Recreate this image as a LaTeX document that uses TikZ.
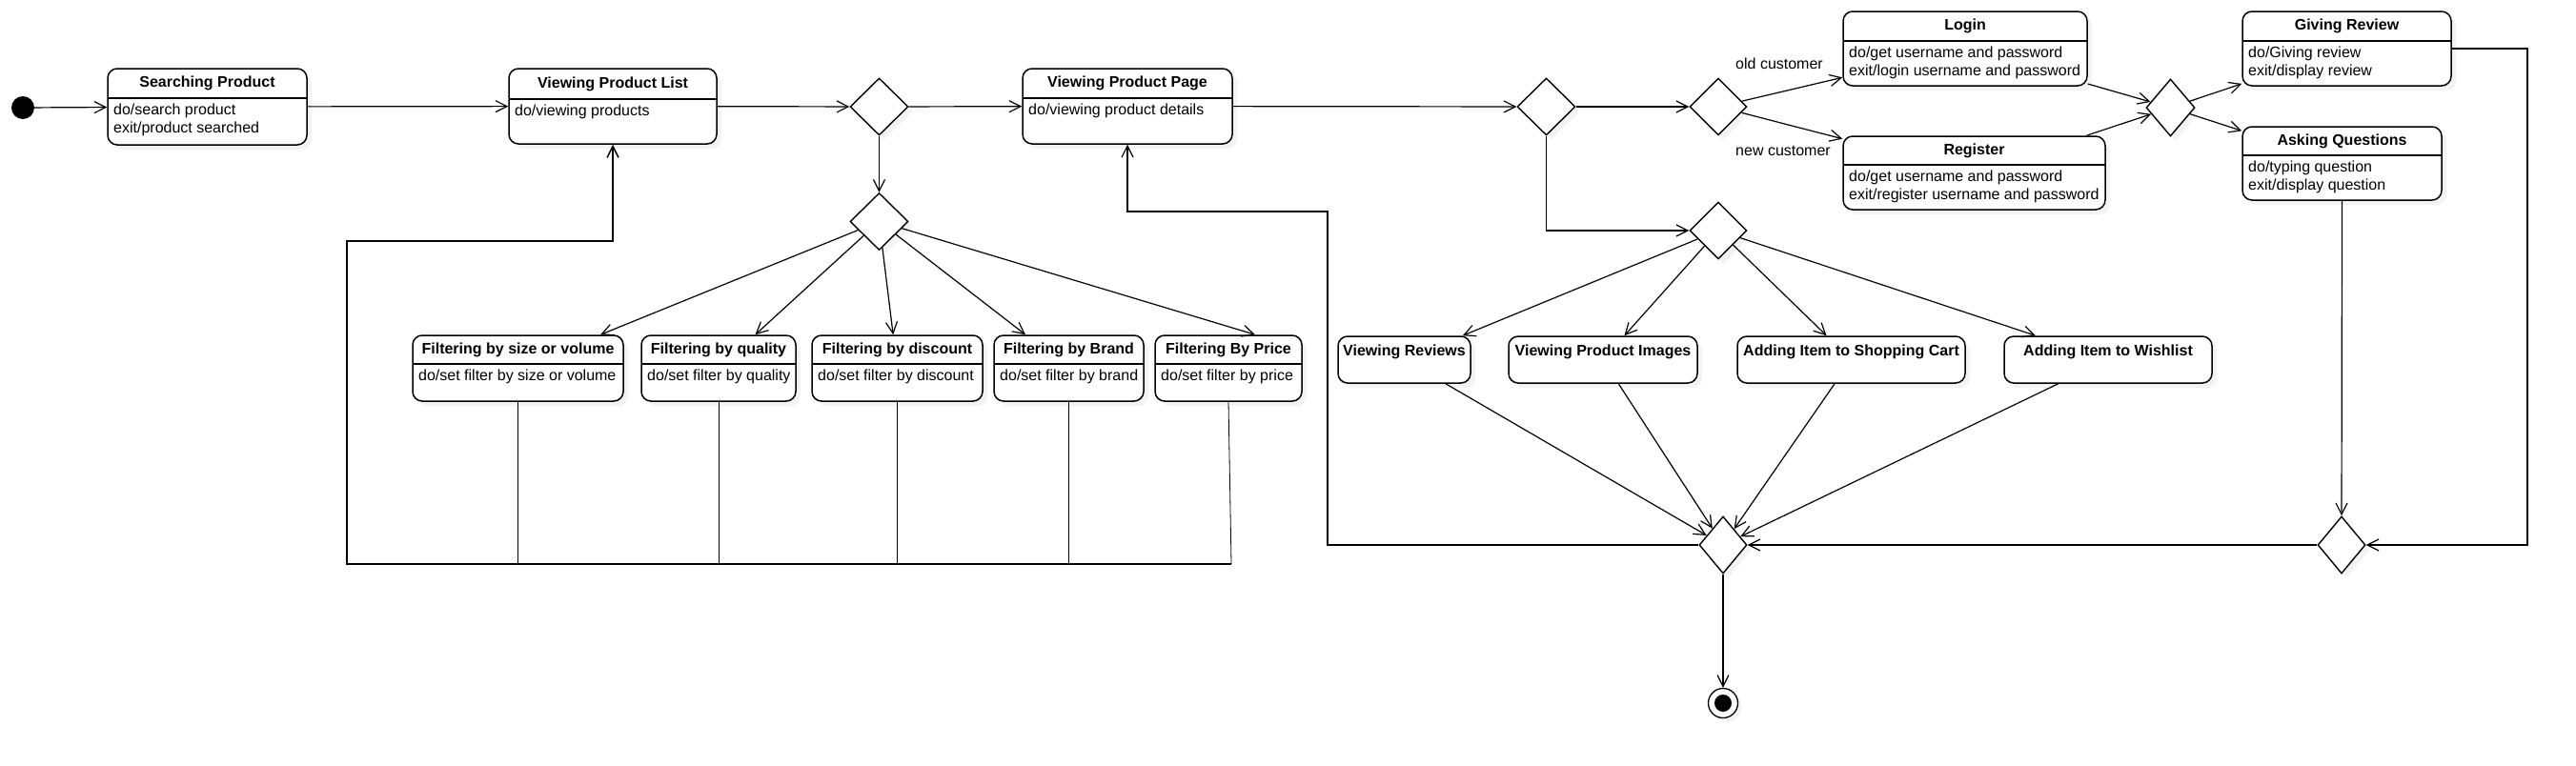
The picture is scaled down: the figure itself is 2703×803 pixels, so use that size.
\documentclass[tikz,border=0pt]{standalone}
\usepackage{fontspec}
\setmainfont{Liberation Sans}
\usetikzlibrary{shapes.geometric,arrows.meta,shadows}

\newcommand\stbox[9]{%
  \node[stbox, minimum width={#4-#2}, minimum height={#5-#3}] (#1) at ({(#2+#4)/2},{(#3+#5)/2}) {};
  \draw[line width=1.5pt] (#2,#6) -- (#4,#6);
  \node[ttl] at ({(#2+#4)/2},{(#3+#6)/2}) {#7};
  \node[bdy, anchor=base west] at ({#2+6},{#6+17.5}) {#8};
  \node[bdy, anchor=base west] at ({#2+6},{#6+36.5}) {#9};
}
\newcommand\plainbox[6]{%
  \node[stbox, minimum width={#4-#2}, minimum height={#5-#3}] (#1) at ({(#2+#4)/2},{(#3+#5)/2}) {};
  \node[ttl] at ({(#2+#4)/2},{#3+16}) {#6};
}

\begin{document}
\begin{tikzpicture}[x=1pt,y=-1pt,
  stbox/.style={draw, line width=1.5pt, rounded corners=10pt, fill=white, inner sep=0pt,
    drop shadow={shadow xshift=5pt, shadow yshift=-5pt, fill=black!9}},
  dec/.style={diamond, draw, line width=1.4pt, fill=white, inner sep=0pt,
    drop shadow={shadow xshift=5pt, shadow yshift=-5pt, fill=black!9}},
  conn/.style={line width=1.2pt, -{Straight Barb[length=12pt,width=12pt]}},
  plainline/.style={line width=1.2pt},
  thinline/.style={line width=0.8pt},
  ttl/.style={font=\fontsize{16}{19}\selectfont\bfseries, inner sep=0pt},
  bdy/.style={font=\fontsize{16}{19}\selectfont, inner sep=0pt},
]
\useasboundingbox[fill=white] (0,0) rectangle (2703,803);

% initial state
\node[circle, fill=black, minimum size=24pt, inner sep=0pt] (init) at (24,113) {};

% state boxes
\stbox{sp}{113}{72}{322}{152}{103}{Searching Product}{do/search product}{exit/product searched}
\stbox{vpl}{534}{72}{752}{151}{104}{Viewing Product List}{do/viewing products}{}
\stbox{vpp}{1073}{72}{1293}{151}{103}{Viewing Product Page}{do/viewing product details}{}
\stbox{login}{1934}{12}{2190}{90}{43}{Login}{do/get username and password}{exit/login username and password}
\stbox{reg}{1934}{143}{2209}{220}{173}{Register}{do/get username and password}{exit/register username and password}
\stbox{gr}{2353}{12}{2572}{90}{43}{Giving Review}{do/Giving review}{exit/display review}
\stbox{aq}{2353}{133}{2562}{210}{163}{Asking Questions}{do/typing question}{exit/display question}

\stbox{fsize}{433}{352}{654}{421}{382}{Filtering by size or volume}{do/set filter by size or volume}{}
\stbox{fqual}{673}{352}{835}{421}{382}{Filtering by quality}{do/set filter by quality}{}
\stbox{fdisc}{852}{352}{1031}{421}{382}{Filtering by discount}{do/set filter by discount}{}
\stbox{fbrand}{1043}{352}{1200}{421}{382}{Filtering by Brand}{do/set filter by brand}{}
\stbox{fprice}{1212}{352}{1366}{421}{382}{Filtering By Price}{do/set filter by price}{}

\plainbox{rev}{1404}{353}{1543}{402}{Viewing Reviews}
\plainbox{img}{1583}{353}{1781}{402}{Viewing Product Images}
\plainbox{cart}{1823}{353}{2062}{402}{Adding Item to Shopping Cart}
\plainbox{wish}{2103}{353}{2321}{402}{Adding Item to Wishlist}

% decision / merge nodes
\node[dec, minimum width=61pt, minimum height=60pt] (d1) at (922.5,112) {};
\node[dec, minimum width=61pt, minimum height=60pt] (d2) at (922.5,232.5) {};
\node[dec, minimum width=61pt, minimum height=60pt] (d3) at (1622.5,112) {};
\node[dec, minimum width=60pt, minimum height=60pt] (d4) at (1803,112) {};
\node[dec, minimum width=60pt, minimum height=60pt] (d6) at (1803,242) {};
\node[dec, minimum width=51pt, minimum height=60pt] (d5) at (2277.5,113) {};
\node[dec, minimum width=50pt, minimum height=60pt] (d7) at (1808,572) {};
\node[dec, minimum width=50pt, minimum height=60pt] (d8) at (2457,572) {};

% final state
\node[circle, draw, line width=1.3pt, fill=white, minimum size=31pt, inner sep=0pt,
  drop shadow={shadow xshift=4pt, shadow yshift=-4pt, fill=black!9}] (fin) at (1808,738) {};
\fill (fin.center) circle (9pt);

% guard labels
\node[bdy, anchor=west] (lold) at (1821,67) {old customer};
\node[bdy, anchor=west] (lnew) at (1821,158) {new customer};

% helper coordinates
\coordinate (bl) at (364,592);
\coordinate (tl) at (364,253);
\coordinate (b1) at (1393,572);
\coordinate (b2) at (1393,222);
\coordinate (rr) at (2652,51);

% main flow
\draw[conn] (init) -- (sp);
\draw[conn] (sp) -- (vpl);
\draw[conn] (vpl) -- (d1);
\draw[conn] (d1) -- (vpp);
\draw[conn] (d1) -- (d2);
\draw[conn] (vpp) -- (d3);
\draw[conn] (d3) -- (d4);
\draw[conn] (d3.south) |- (d6.west);

% filters
\draw[conn] (d2) -- (fsize);
\draw[conn] (d2) -- (fqual);
\draw[conn] (d2) -- (fdisc);
\draw[conn] (d2) -- (fbrand);
\draw[conn] (d2) -- ([xshift=28pt]fprice.north);

\draw[thinline] (fsize.south) -- (fsize.south |- bl);
\draw[thinline] (fqual.south) -- (fqual.south |- bl);
\draw[thinline] (fdisc.south) -- (fdisc.south |- bl);
\draw[thinline] (fbrand.south) -- (fbrand.south |- bl);
\draw[thinline] (fprice.south) -- ([xshift=3pt]fprice.south |- bl);
\draw[conn, line width=1.5pt] ([xshift=3pt]fprice.south |- bl) -- (bl) -- (tl) -| (vpl.south);

% login / register
\draw[conn] (d4) -- (login);
\draw[conn] (d4) -- (reg);
\draw[conn] (login) -- (d5);
\draw[conn] (reg) -- (d5);
\draw[conn] (d5) -- (gr);
\draw[conn] (d5) -- (aq);
\draw[conn] (gr.east) -- (rr) |- (d8.east);
\draw[conn] (aq.south) -- (d8.north);
\draw[conn] (d8.west) -- (d7.east);

% product page options
\draw[conn] (d6) -- (rev);
\draw[conn] (d6) -- (img);
\draw[conn] (d6) -- (cart);
\draw[conn] (d6) -- (wish);
\draw[conn] (rev) -- (d7);
\draw[conn] (img) -- (d7);
\draw[conn] (cart) -- (d7);
\draw[conn] (wish) -- (d7);

% back to product page, and end
\draw[conn] (d7.west) -- (b1) -- (b2) -| (vpp.south);
\draw[conn] (d7.south) -- (fin.north);
\end{tikzpicture}
\end{document}
